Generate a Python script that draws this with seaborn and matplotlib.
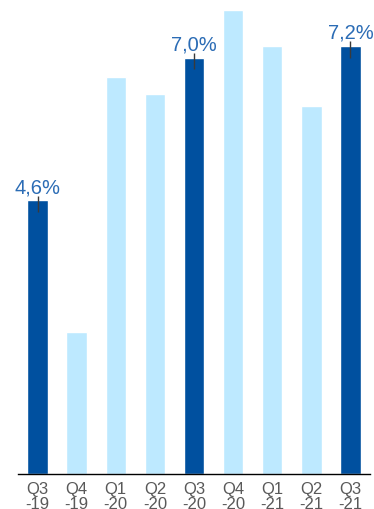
import matplotlib
matplotlib.use("Agg")
import matplotlib.pyplot as plt
import seaborn as sns
import pandas as pd

categories = ["Q3\n-19", "Q4\n-19", "Q1\n-20", "Q2\n-20", "Q3\n-20", "Q4\n-20", "Q1\n-21", "Q2\n-21", "Q3\n-21"]
values = [4.6, 2.38, 6.68, 6.39, 7.0, 7.8, 7.2, 6.19, 7.2]
highlight = [True, False, False, False, True, False, False, False, True]
labels = ["4,6%", "", "", "", "7,0%", "", "", "", "7,2%"]

DARK = "#00509F"
LIGHT = "#BDE9FF"

sns.set_theme(style="white")
plt.rcParams['font.family'] = ['Arial', 'Liberation Sans', 'DejaVu Sans']

df = pd.DataFrame({"cat": categories, "val": values})
colors = [DARK if h else LIGHT for h in highlight]

fig = plt.figure(figsize=(3.74, 5.10), dpi=100)
ax = fig.add_axes([18/374, 1 - 475/510, 352/374, 464/510])
sns.barplot(data=df, x="cat", y="val", hue="cat", palette=colors, legend=False,
            width=0.52, ax=ax, saturation=1)

# small error bars on highlighted bars
for i, (v, h) in enumerate(zip(values, highlight)):
    if h:
        ax.errorbar(i, v, yerr=[[0.2], [0.08]], fmt='none', ecolor='#3a3a3a',
                    elinewidth=1.0, capsize=0, zorder=5)
        ax.annotate(labels[i], (i, v), xytext=(0, 5.6), textcoords='offset points',
                    ha='center', va='baseline', fontsize=14.5, color='#2B6CB5')

ax.set_xlim(-0.5, 8.5)
ax.set_ylim(0, 7.8)
ax.set_xlabel("")
ax.set_ylabel("")
ax.set_yticks([])
for s in ["top", "right", "left"]:
    ax.spines[s].set_visible(False)
ax.spines["bottom"].set_color("black")
ax.spines["bottom"].set_linewidth(1.0)
ax.tick_params(axis='x', length=0, pad=5, labelsize=12, labelcolor='#595959')
for t in ax.get_xticklabels():
    t.set_linespacing(1.0)
for p in ax.patches:
    p.set_clip_on(False)

fig.savefig("out.png", dpi=100)
